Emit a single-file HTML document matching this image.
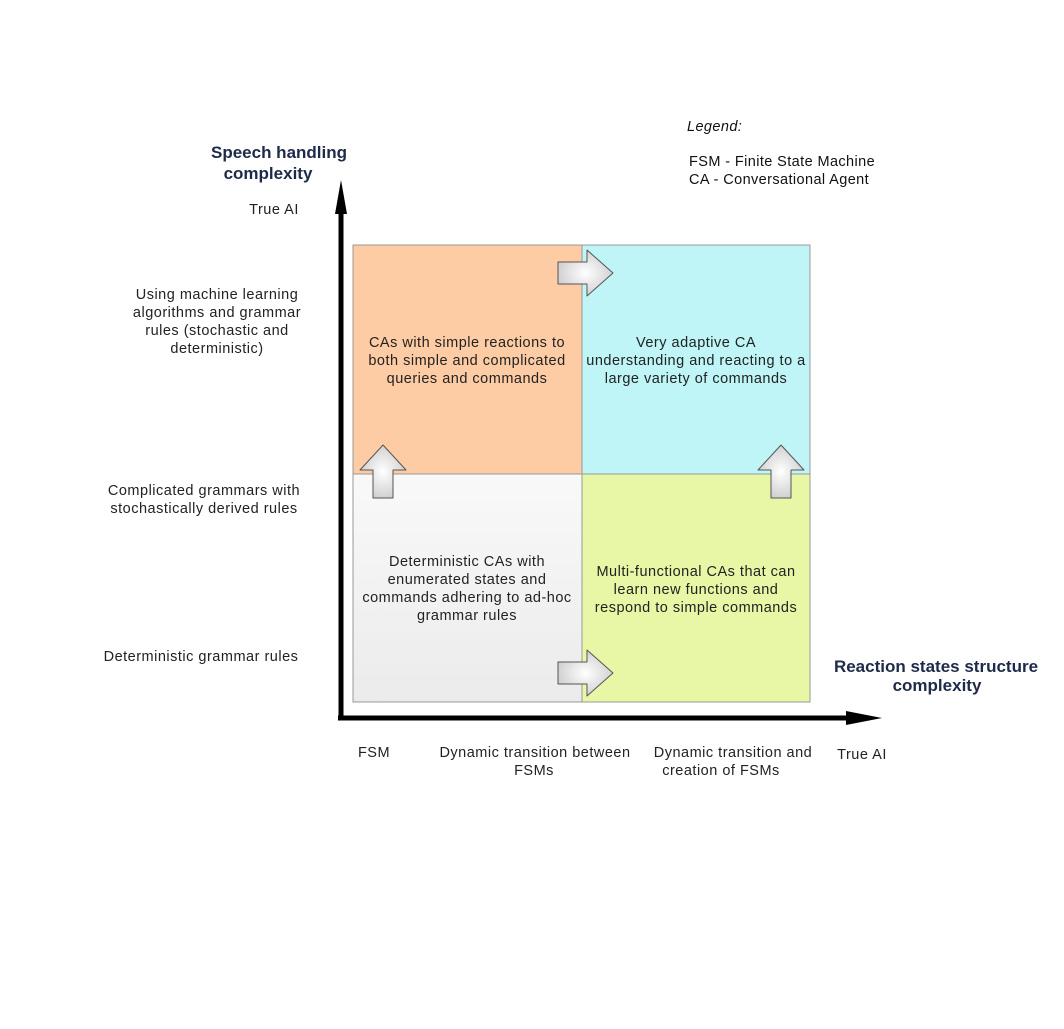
<!DOCTYPE html>
<html><head><meta charset="utf-8"><style>
html,body{margin:0;padding:0;background:#fff;}
svg text{font-family:"Liberation Sans",sans-serif;}
</style></head><body>
<svg width="1064" height="1024" viewBox="0 0 1064 1024" xmlns="http://www.w3.org/2000/svg">
<defs>
<linearGradient id="g1" x1="0" y1="0" x2="0" y2="1"><stop offset="0" stop-color="#f9f9f9"/><stop offset="1" stop-color="#ebebeb"/></linearGradient>
<radialGradient id="ab" cx="0.5" cy="0.5" r="0.6"><stop offset="0" stop-color="#ffffff"/><stop offset="1" stop-color="#c8c8c8"/></radialGradient>
</defs>
<rect x="353" y="245" width="229" height="229" fill="#fecca4" stroke="#999" stroke-width="1"/>
<rect x="582" y="245" width="228" height="229" fill="#bff5f7" stroke="#999" stroke-width="1"/>
<rect x="353" y="474" width="229" height="228" fill="url(#g1)" stroke="#999" stroke-width="1"/>
<rect x="582" y="474" width="228" height="228" fill="#e8f7a6" stroke="#999" stroke-width="1"/>
<path d="M341 720 L341 212" stroke="#000" stroke-width="5" fill="none"/>
<path d="M341 180 L347 214 L335 214 Z" fill="#000"/>
<path d="M338 718 L850 718" stroke="#000" stroke-width="5" fill="none"/>
<path d="M882 718 L846 711 L846 725 Z" fill="#000"/>
<g fill="url(#ab)" stroke="#555" stroke-width="1" stroke-linejoin="round">
<path d="M558 262 L587 262 L587 250 L613 273 L587 296 L587 284 L558 284 Z"/>
<path d="M558 662 L587 662 L587 650 L613 673 L587 696 L587 684 L558 684 Z"/>
<path d="M373 498 L373 470 L360 470 L383 445 L406 470 L393 470 L393 498 Z"/>
<path d="M771 498 L771 470 L758 470 L781 445 L804 470 L791 470 L791 498 Z"/>
</g>
<g font-size="14.5" fill="#222" text-anchor="middle" letter-spacing="0.5">
<text x="467" y="347">CAs with simple reactions to</text>
<text x="467" y="365">both simple and complicated</text>
<text x="467" y="383">queries and commands</text>
<text x="696" y="347">Very adaptive CA</text>
<text x="696" y="365">understanding and reacting to a</text>
<text x="696" y="383">large variety of commands</text>
<text x="467" y="566">Deterministic CAs with</text>
<text x="467" y="584">enumerated states and</text>
<text x="467" y="602">commands adhering to ad-hoc</text>
<text x="467" y="620">grammar rules</text>
<text x="696" y="576">Multi-functional CAs that can</text>
<text x="696" y="594">learn new functions and</text>
<text x="696" y="612">respond to simple commands</text>
<text x="274" y="214">True AI</text>
<text x="217" y="299">Using machine learning</text>
<text x="217" y="317">algorithms and grammar</text>
<text x="217" y="335">rules (stochastic and</text>
<text x="217" y="353">deterministic)</text>
<text x="204" y="495">Complicated grammars with</text>
<text x="204" y="513">stochastically derived rules</text>
<text x="201" y="661">Deterministic grammar rules</text>
<text x="374" y="757">FSM</text>
<text x="535" y="757">Dynamic transition between</text>
<text x="534" y="775">FSMs</text>
<text x="733" y="757">Dynamic transition and</text>
<text x="721" y="775">creation of FSMs</text>
<text x="862" y="759">True AI</text>
</g>
<g font-size="17" font-weight="900" fill="#1e2a4a" text-anchor="middle">
<text x="279" y="158">Speech handling</text>
<text x="268" y="179">complexity</text>
<text x="936" y="672">Reaction states structure</text>
<text x="937" y="691">complexity</text>
</g>
<g font-size="14.5" fill="#111" letter-spacing="0.4">
<text x="687" y="131" font-style="italic">Legend:</text>
<text x="689" y="166">FSM - Finite State Machine</text>
<text x="689" y="184">CA - Conversational Agent</text>
</g>
</svg>
</body></html>
